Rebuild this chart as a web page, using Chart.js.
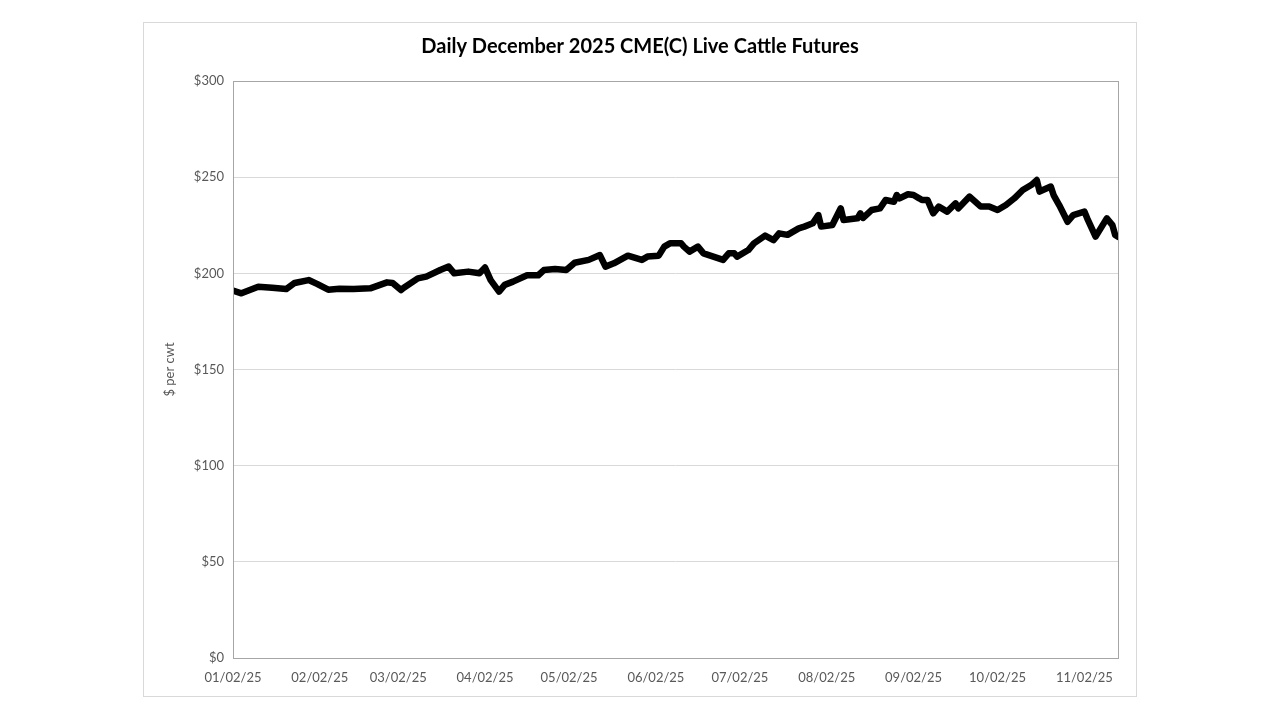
<!DOCTYPE html>
<html>
<head>
<meta charset="utf-8">
<title>Daily December 2025 CME(C) Live Cattle Futures</title>
<script src="https://cdn.jsdelivr.net/npm/chart.js@4/dist/chart.umd.min.js"></script>
<style>
  html, body { margin: 0; padding: 0; background: #fff; }
  #box {
    position: absolute;
    left: 143px; top: 22px;
    width: 994px; height: 675px;
    border: 1px solid #d9d9d9;
    box-sizing: border-box;
  }
  canvas { display: block; }
</style>
</head>
<body>
<div id="box"><canvas id="chart"></canvas></div>
<script>
// days counted from 01/02/25
const tradeDays = [0, 3, 9, 14, 19, 22, 27, 30, 34, 38, 43, 49, 55, 57, 60, 61, 66, 69, 74, 77,
  79, 84, 88, 90, 92, 95, 97, 100, 105, 109, 111, 115, 119, 122, 127, 131, 133, 136, 141, 146,
  148, 152, 154, 156, 160, 161, 163, 166, 168, 175, 177, 179, 180, 184, 186, 190, 193, 195, 198, 202,
  204, 207, 209, 210, 214, 217, 218, 223, 224, 225, 228, 231, 233, 236, 237, 238, 241, 243, 245, 246,
  248, 250, 252, 255, 258, 259, 263, 267, 270, 273, 276, 279, 282, 285, 287, 288, 292, 293, 295, 298,
  300, 304, 305, 308, 312, 314, 315, 316];
const prices = [191, 189.6, 193, 192.5, 191.8, 195, 196.5, 194.5, 191.5, 192, 191.8, 192.2, 195.3, 195, 191.3, 192.5, 197.4, 198.3, 201.7, 203.5,
  200, 200.9, 200, 203, 196.5, 190.5, 194, 195.7, 199, 199, 201.7, 202.2, 201.7, 205.5, 207, 209.5, 203.5, 205.2, 209.2, 207,
  208.7, 209.2, 213.9, 215.6, 215.6, 213.9, 211.3, 213.9, 210.4, 207, 210.4, 210.4, 208.7, 212.1, 215.6, 219.6, 217.3, 220.8, 220, 223.4,
  224.3, 226, 230.3, 224.3, 225.1, 233.8, 227.7, 228.6, 231.2, 228.8, 232.9, 233.8, 238.1, 237.2, 240.7, 239, 241.1, 240.7, 239, 238.1,
  238.1, 231.2, 234.7, 232.1, 236.4, 233.8, 239.9, 234.7, 234.7, 232.9, 235.5, 239, 243.3, 245.9, 248.5, 242.5, 245.1, 240.7, 235.5, 226.8,
  230.3, 232.1, 228.6, 219.1, 228.6, 225.1, 219.9, 219];

const monthDays = [0, 31, 59, 90, 120, 151, 181, 212, 243, 273, 304];
const monthLabels = ['01/02/25', '02/02/25', '03/02/25', '04/02/25', '05/02/25', '06/02/25',
  '07/02/25', '08/02/25', '09/02/25', '10/02/25', '11/02/25'];
const yTicks = [0, 50, 100, 150, 200, 250, 300];

const FONT = "Lato, 'Open Sans', 'Liberation Sans', sans-serif";
const TICK_COLOR = '#595959';

// draws the grey frame round the plot area, like the Excel chart
const frame = {
  id: 'frame',
  afterDraw(chart) {
    const a = chart.chartArea, ctx = chart.ctx;
    ctx.save();
    ctx.strokeStyle = '#a6a6a6';
    ctx.lineWidth = 1;
    ctx.strokeRect(Math.round(a.left) + 0.5, Math.round(a.top) + 0.5,
      Math.round(a.right - a.left), Math.round(a.bottom - a.top));
    ctx.restore();
  }
};

const canvas = document.getElementById('chart');
canvas.width = 992;
canvas.height = 673;

new Chart(canvas, {
  type: 'line',
  data: {
    datasets: [{
      data: tradeDays.map((d, i) => ({ x: d, y: prices[i] })),
      borderColor: '#000',
      borderWidth: 6.5,
      borderJoinStyle: 'round',
      borderCapStyle: 'round',
      pointRadius: 0,
      tension: 0
    }]
  },
  options: {
    responsive: false,
    animation: false,
    layout: { padding: { left: 18, right: 18, top: 0, bottom: 0 } },
    plugins: {
      legend: { display: false },
      tooltip: { enabled: false },
      title: {
        display: true,
        text: 'Daily December 2025 CME(C) Live Cattle Futures',
        color: '#000',
        font: { family: FONT, size: 20, weight: 'bold' },
        padding: { top: 12, bottom: 22 }
      }
    },
    scales: {
      x: {
        type: 'linear',
        min: 0,
        max: 316,
        afterBuildTicks: s => { s.ticks = monthDays.map(v => ({ value: v })); },
        afterFit: s => { s.height = 38; },
        ticks: {
          autoSkip: false,
          maxRotation: 0,
          padding: 12,
          color: TICK_COLOR,
          font: { family: FONT, size: 13 },
          callback: (v) => monthLabels[monthDays.indexOf(v)]
        },
        grid: { display: false, drawTicks: false },
        border: { display: false }
      },
      y: {
        min: 0,
        max: 300,
        afterBuildTicks: s => { s.ticks = yTicks.map(v => ({ value: v })); },
        afterFit: s => { s.width = 71; },
        ticks: {
          padding: 9,
          color: TICK_COLOR,
          font: { family: FONT, size: 13 },
          callback: v => '$' + v
        },
        grid: { color: '#d9d9d9', drawTicks: false },
        border: { display: false },
        title: {
          display: true,
          text: '$ per cwt',
          color: TICK_COLOR,
          font: { family: FONT, size: 13 },
          padding: 0
        }
      }
    }
  },
  plugins: [frame]
});
</script>
</body>
</html>
